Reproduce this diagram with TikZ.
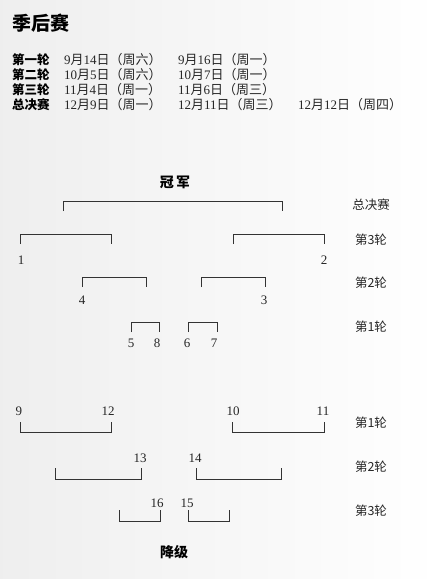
\documentclass[tikz,border=0pt]{standalone}
\usepackage{fontspec}
\setmainfont{Liberation Serif}
\newfontfamily\cjk{Noto Sans CJK SC}
\newcommand{\zh}[1]{{\cjk #1}}
\tikzset{
  bra/.style={draw=black!80, line width=0.9pt},
  num/.style={font=\fontsize{13}{13}\selectfont, text=black!85, inner sep=0pt},
  rnd/.style={font=\cjk\fontsize{12.5}{12.5}\selectfont, text=black!85, inner sep=0pt},
  sched/.style={font=\fontsize{13}{13}\selectfont, text=black!85, inner sep=0pt, anchor=west},
  lab/.style={font=\cjk\bfseries\fontsize{12.5}{12.5}\selectfont, inner sep=0pt, anchor=west}
}
\begin{document}
\begin{tikzpicture}[x=1pt,y=-1pt]
        % fondo
        \shade[left color=gray!13, right color=white] (0,0) rectangle (440,579);
        \useasboundingbox (0,0) rectangle (440,579);
        % titolo e calendario
        \node[font=\cjk\bfseries\fontsize{19}{19}\selectfont, anchor=west, inner sep=0pt] (titolo) at (12,23) {季后赛};
        \node[lab] (r1) at (12,60) {第一轮};
        \node[lab] (r2) at (12,75) {第二轮};
        \node[lab] (r3) at (12,90) {第三轮};
        \node[lab] (fin) at (12,105) {总决赛};
        \node[sched] (r1a) at (64,60) {9\zh{月}14\zh{日（周六）}};
        \node[sched] (r1b) at (178,60) {9\zh{月}16\zh{日（周一）}};
        \node[sched] (r2a) at (64,75) {10\zh{月}5\zh{日（周六）}};
        \node[sched] (r2b) at (178,75) {10\zh{月}7\zh{日（周一）}};
        \node[sched] (r3a) at (64,90) {11\zh{月}4\zh{日（周一）}};
        \node[sched] (r3b) at (178,90) {11\zh{月}6\zh{日（周三）}};
        \node[sched] (fina) at (64,105) {12\zh{月}9\zh{日（周一）}};
        \node[sched] (finb) at (178,105) {12\zh{月}11\zh{日（周三）}};
        \node[sched] (finc) at (298,105) {12\zh{月}12\zh{日（周四）}};
        % parte alta
        \node[font=\cjk\bfseries\fontsize{14}{14}\selectfont, inner sep=0pt] (campione) at (175,182) {冠\,军};
        \draw[bra] (63,211) -- (63,201) -- (282,201) -- (282,211);
        \draw[bra] (20,244) -- (20,234) -- (111,234) -- (111,244);
        \draw[bra] (233,244) -- (233,234) -- (324,234) -- (324,244);
        \draw[bra] (82,287) -- (82,277) -- (146,277) -- (146,287);
        \draw[bra] (201,287) -- (201,277) -- (265,277) -- (265,287);
        \draw[bra] (131,332) -- (131,322) -- (159,322) -- (159,332);
        \draw[bra] (188,332) -- (188,322) -- (217,322) -- (217,332);
        \node[num] (t1) at (21,260) {1};
        \node[num] (t2) at (324,260) {2};
        \node[num] (t4) at (82,300) {4};
        \node[num] (t3) at (264,300) {3};
        \node[num] (t5) at (131,343) {5};
        \node[num] (t8) at (157,343) {8};
        \node[num] (t6) at (187,343) {6};
        \node[num] (t7) at (214,343) {7};
        \node[rnd] (afin) at (371,205) {总决赛};
        \node[rnd] (a3) at (371,240) {第3轮};
        \node[rnd] (a2) at (371,283) {第2轮};
        \node[rnd] (a1) at (371,327) {第1轮};
        % parte bassa
        \draw[bra] (20,422) -- (20,432) -- (111,432) -- (111,422);
        \draw[bra] (232,422) -- (232,432) -- (324,432) -- (324,422);
        \draw[bra] (55,468) -- (55,479) -- (141,479) -- (141,468);
        \draw[bra] (196,468) -- (196,479) -- (281,479) -- (281,468);
        \draw[bra] (119,510) -- (119,521) -- (160,521) -- (160,510);
        \draw[bra] (188,510) -- (188,521) -- (229,521) -- (229,510);
        \node[num] (t9) at (19,411) {9};
        \node[num] (t12) at (108,411) {12};
        \node[num] (t10) at (233,411) {10};
        \node[num] (t11) at (323,411) {11};
        \node[num] (t13) at (140,458) {13};
        \node[num] (t14) at (195,458) {14};
        \node[num] (t16) at (157,503) {16};
        \node[num] (t15) at (187,503) {15};
        \node[rnd] (b1) at (371,423) {第1轮};
        \node[rnd] (b2) at (371,467) {第2轮};
        \node[rnd] (b3) at (371,511) {第3轮};
        \node[font=\cjk\bfseries\fontsize{14}{14}\selectfont, inner sep=0pt] (retro) at (174,552) {降级};
\end{tikzpicture}
\end{document}
